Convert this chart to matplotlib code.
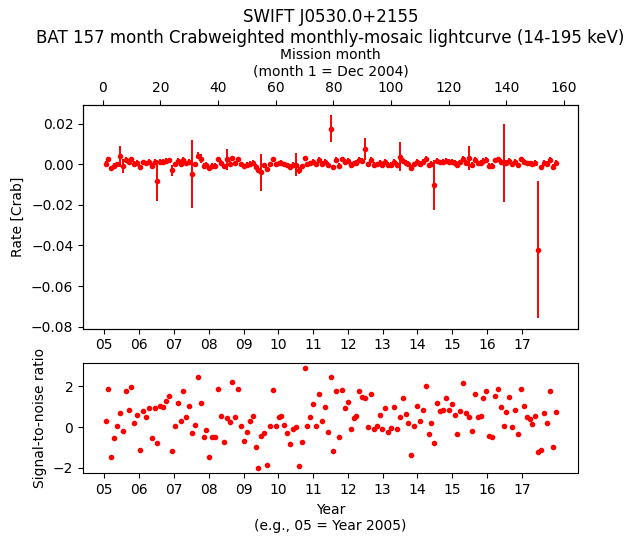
import matplotlib
matplotlib.use("Agg")
import matplotlib.pyplot as plt
import numpy as np

# monthly bins, month 1 = Dec 2004
months = np.arange(1, 158)

# rate in units of 1e-3 Crab
rate_m = [
    0.4, 2.5, -1.9, -0.7, 0.0, 4.0, -0.7, 2.3, 1.1, 2.5,
    0.2, 0.7, -1.5, 1.0, 0.6, 1.2, -0.7, 1.2, -8.0, 1.3,
    1.2, 1.7, 2.0, -3.0, 0.0, 1.6, 0.4, 2.3, 0.6, 1.3,
    -4.9, 0.1, 4.3, 2.7, -0.7, -0.2, -1.9, -0.7, -0.7, 2.5,
    0.7, -1.0, 2.5, 0.3, 2.9, 0.6, 2.5, 0.0, -0.9, -0.3,
    0.4, 0.7, -1.3, -2.6, -4.0, -0.4, -2.4, 0.0, 2.4, 0.0,
    0.6, 0.7, 0.1, -0.4, -1.1, -0.1, -0.1, -3.0, -1.0, 2.9,
    0.0, 0.6, 1.4, 0.0, 2.1, 0.4, 1.2, -0.3, 17.6, -1.5,
    2.3, -0.7, 2.4, 1.2, 1.6, -0.1, 0.5, 0.7, 2.3, 1.9,
    7.6, 0.0, 2.1, -0.1, 0.0, 0.7, -0.1, 1.2, -0.3, -0.1,
    1.2, -0.1, 3.8, 1.8, 0.8, 0.2, -1.8, 0.0, 1.3, 0.4,
    1.1, 2.6, -0.5, 0.2, -10.1, 1.6, 1.0, 1.1, 1.8, 1.1,
    1.4, 0.7, -0.5, 1.0, 2.8, 0.9, 3.2, -0.3, 2.1, 0.6,
    0.7, 1.8, 2.3, -0.6, -0.7, 2.0, 2.5, 1.2, 0.6, 0.9,
    1.9, 0.0, 1.1, -0.5, 2.5, 1.3, 0.6, 0.5, 0.2, 0.7,
    -42.1, -1.5, 0.9, 0.2, 2.3, -1.3, 0.9,
]

# 1-sigma error in units of 1e-3 Crab
err_m = [
    1.3, 1.3, 1.3, 1.3, 1.3, 5.2, 3.5, 1.3, 1.3, 1.3,
    1.3, 1.3, 1.3, 1.3, 1.3, 1.3, 1.3, 1.3, 10.3, 1.3,
    1.3, 1.3, 1.3, 2.5, 1.3, 1.3, 1.3, 1.3, 1.3, 1.3,
    16.7, 1.3, 1.75, 2.2, 1.3, 1.3, 1.3, 1.3, 1.3, 1.3,
    1.3, 1.3, 5.3, 1.3, 1.3, 1.3, 1.3, 1.3, 1.3, 1.3,
    1.3, 1.3, 1.3, 1.3, 9.0, 1.3, 1.3, 1.3, 1.3, 1.3,
    1.3, 1.3, 1.3, 1.3, 1.3, 1.3, 5.5, 1.6, 1.3, 1.0,
    1.3, 1.3, 1.3, 1.3, 1.3, 1.3, 1.3, 1.3, 6.8, 1.3,
    1.3, 1.3, 1.3, 1.3, 1.3, 1.3, 1.3, 1.3, 1.3, 1.3,
    5.6, 1.3, 1.3, 1.3, 1.3, 1.3, 1.3, 1.3, 1.3, 1.3,
    1.3, 1.3, 7.2, 1.3, 1.3, 1.3, 1.3, 1.3, 1.3, 1.3,
    1.3, 1.3, 1.3, 1.3, 12.3, 1.3, 1.3, 1.3, 1.3, 1.3,
    1.3, 1.3, 1.3, 1.3, 1.3, 1.3, 5.8, 1.3, 1.3, 1.3,
    1.3, 1.3, 1.3, 1.3, 1.3, 1.3, 1.3, 1.3, 19.3, 1.3,
    1.3, 1.3, 1.3, 1.3, 1.3, 1.3, 1.3, 1.3, 1.3, 1.3,
    33.9, 1.3, 1.3, 1.3, 1.3, 1.3, 1.3,
]

snr = [
    0.28, 1.89, -1.48, -0.55, 0.03, 0.67, -0.21, 1.79, 0.86, 1.94,
    0.18, 0.57, -1.14, 0.77, 0.47, 0.91, -0.55, 0.91, -0.80, 1.02,
    0.96, 1.30, 1.50, -1.19, 0.03, 1.20, 0.28, 1.79, 0.47, 1.01,
    -0.31, 0.08, 2.47, 1.20, -0.50, -0.16, -1.48, -0.50, -0.50, 1.89,
    0.52, -0.75, 0.42, 0.23, 2.23, 0.47, 1.89, 0.03, -0.70, -0.26,
    0.28, 0.52, -0.99, -2.02, -0.45, -0.31, -1.87, 0.03, 1.84, 0.03,
    0.47, 0.52, 0.08, -0.31, -0.84, -0.11, -0.01, -1.92, -0.75, 2.91,
    0.03, 0.47, 1.11, 0.03, 1.60, 0.28, 0.96, -0.26, 2.47, -1.19,
    1.79, -0.50, 1.84, 0.91, 1.25, -0.11, 0.42, 0.52, 1.79, 1.45,
    1.40, -0.01, 1.64, -0.11, 0.03, 0.57, -0.11, 0.91, -0.26, -0.06,
    0.96, -0.11, 0.47, 1.40, 0.62, 0.18, -1.38, 0.03, 1.01, 0.28,
    0.86, 2.03, -0.36, 0.18, -0.80, 1.20, 0.77, 0.86, 1.40, 0.86,
    1.11, 0.57, -0.36, 0.77, 2.18, 0.67, 0.47, -0.21, 1.64, 0.47,
    0.52, 1.40, 1.79, -0.45, -0.50, 1.50, 1.89, 0.96, 0.03, 0.72,
    1.45, -0.01, 0.86, -0.36, 1.89, 1.01, 0.47, 0.38, 0.13, 0.52,
    -1.23, -1.14, 0.67, 0.18, 1.79, -0.99, 0.72,
]

year_labels = ["05", "06", "07", "08", "09", "10", "11", "12", "13", "14", "15", "16", "17"]
year_ticks = [0.6 + 12.06 * k for k in range(len(year_labels))]
month_ticks = [0, 20, 40, 60, 80, 100, 120, 140, 160]

rate = np.array(rate_m) / 1000.0
err = np.array(err_m) / 1000.0

fig = plt.figure(figsize=(6.38, 5.43), dpi=100)
ax1 = fig.add_axes([0.1301, 0.3947, 0.7759, 0.4125])
ax2 = fig.add_axes([0.1301, 0.1284, 0.7759, 0.2037])

ax1.errorbar(months, rate, yerr=err, fmt="o", color="red", ms=3.0, elinewidth=1.4)
ax1.set_ylabel("Rate [Crab]")
ax1.set_xticks(year_ticks)
ax1.set_xticklabels(year_labels)

top = ax1.twiny()
top.set_xlim(ax1.get_xlim())
top.set_xticks(month_ticks)
top.set_xlabel("Mission month\n(month 1 = Dec 2004)")
top.set_title("SWIFT J0530.0+2155\nBAT 157 month Crabweighted monthly-mosaic lightcurve (14-195 keV)",
              pad=4)

ax2.plot(months, snr, "o", color="red", ms=3.0, linestyle="none")
ax2.set_xlim(ax1.get_xlim())
ax2.set_xticks(year_ticks)
ax2.set_xticklabels(year_labels)
ax2.set_ylabel("Signal-to-noise ratio")
ax2.set_xlabel("Year\n(e.g., 05 = Year 2005)")

fig.savefig("out.png", dpi=100)
